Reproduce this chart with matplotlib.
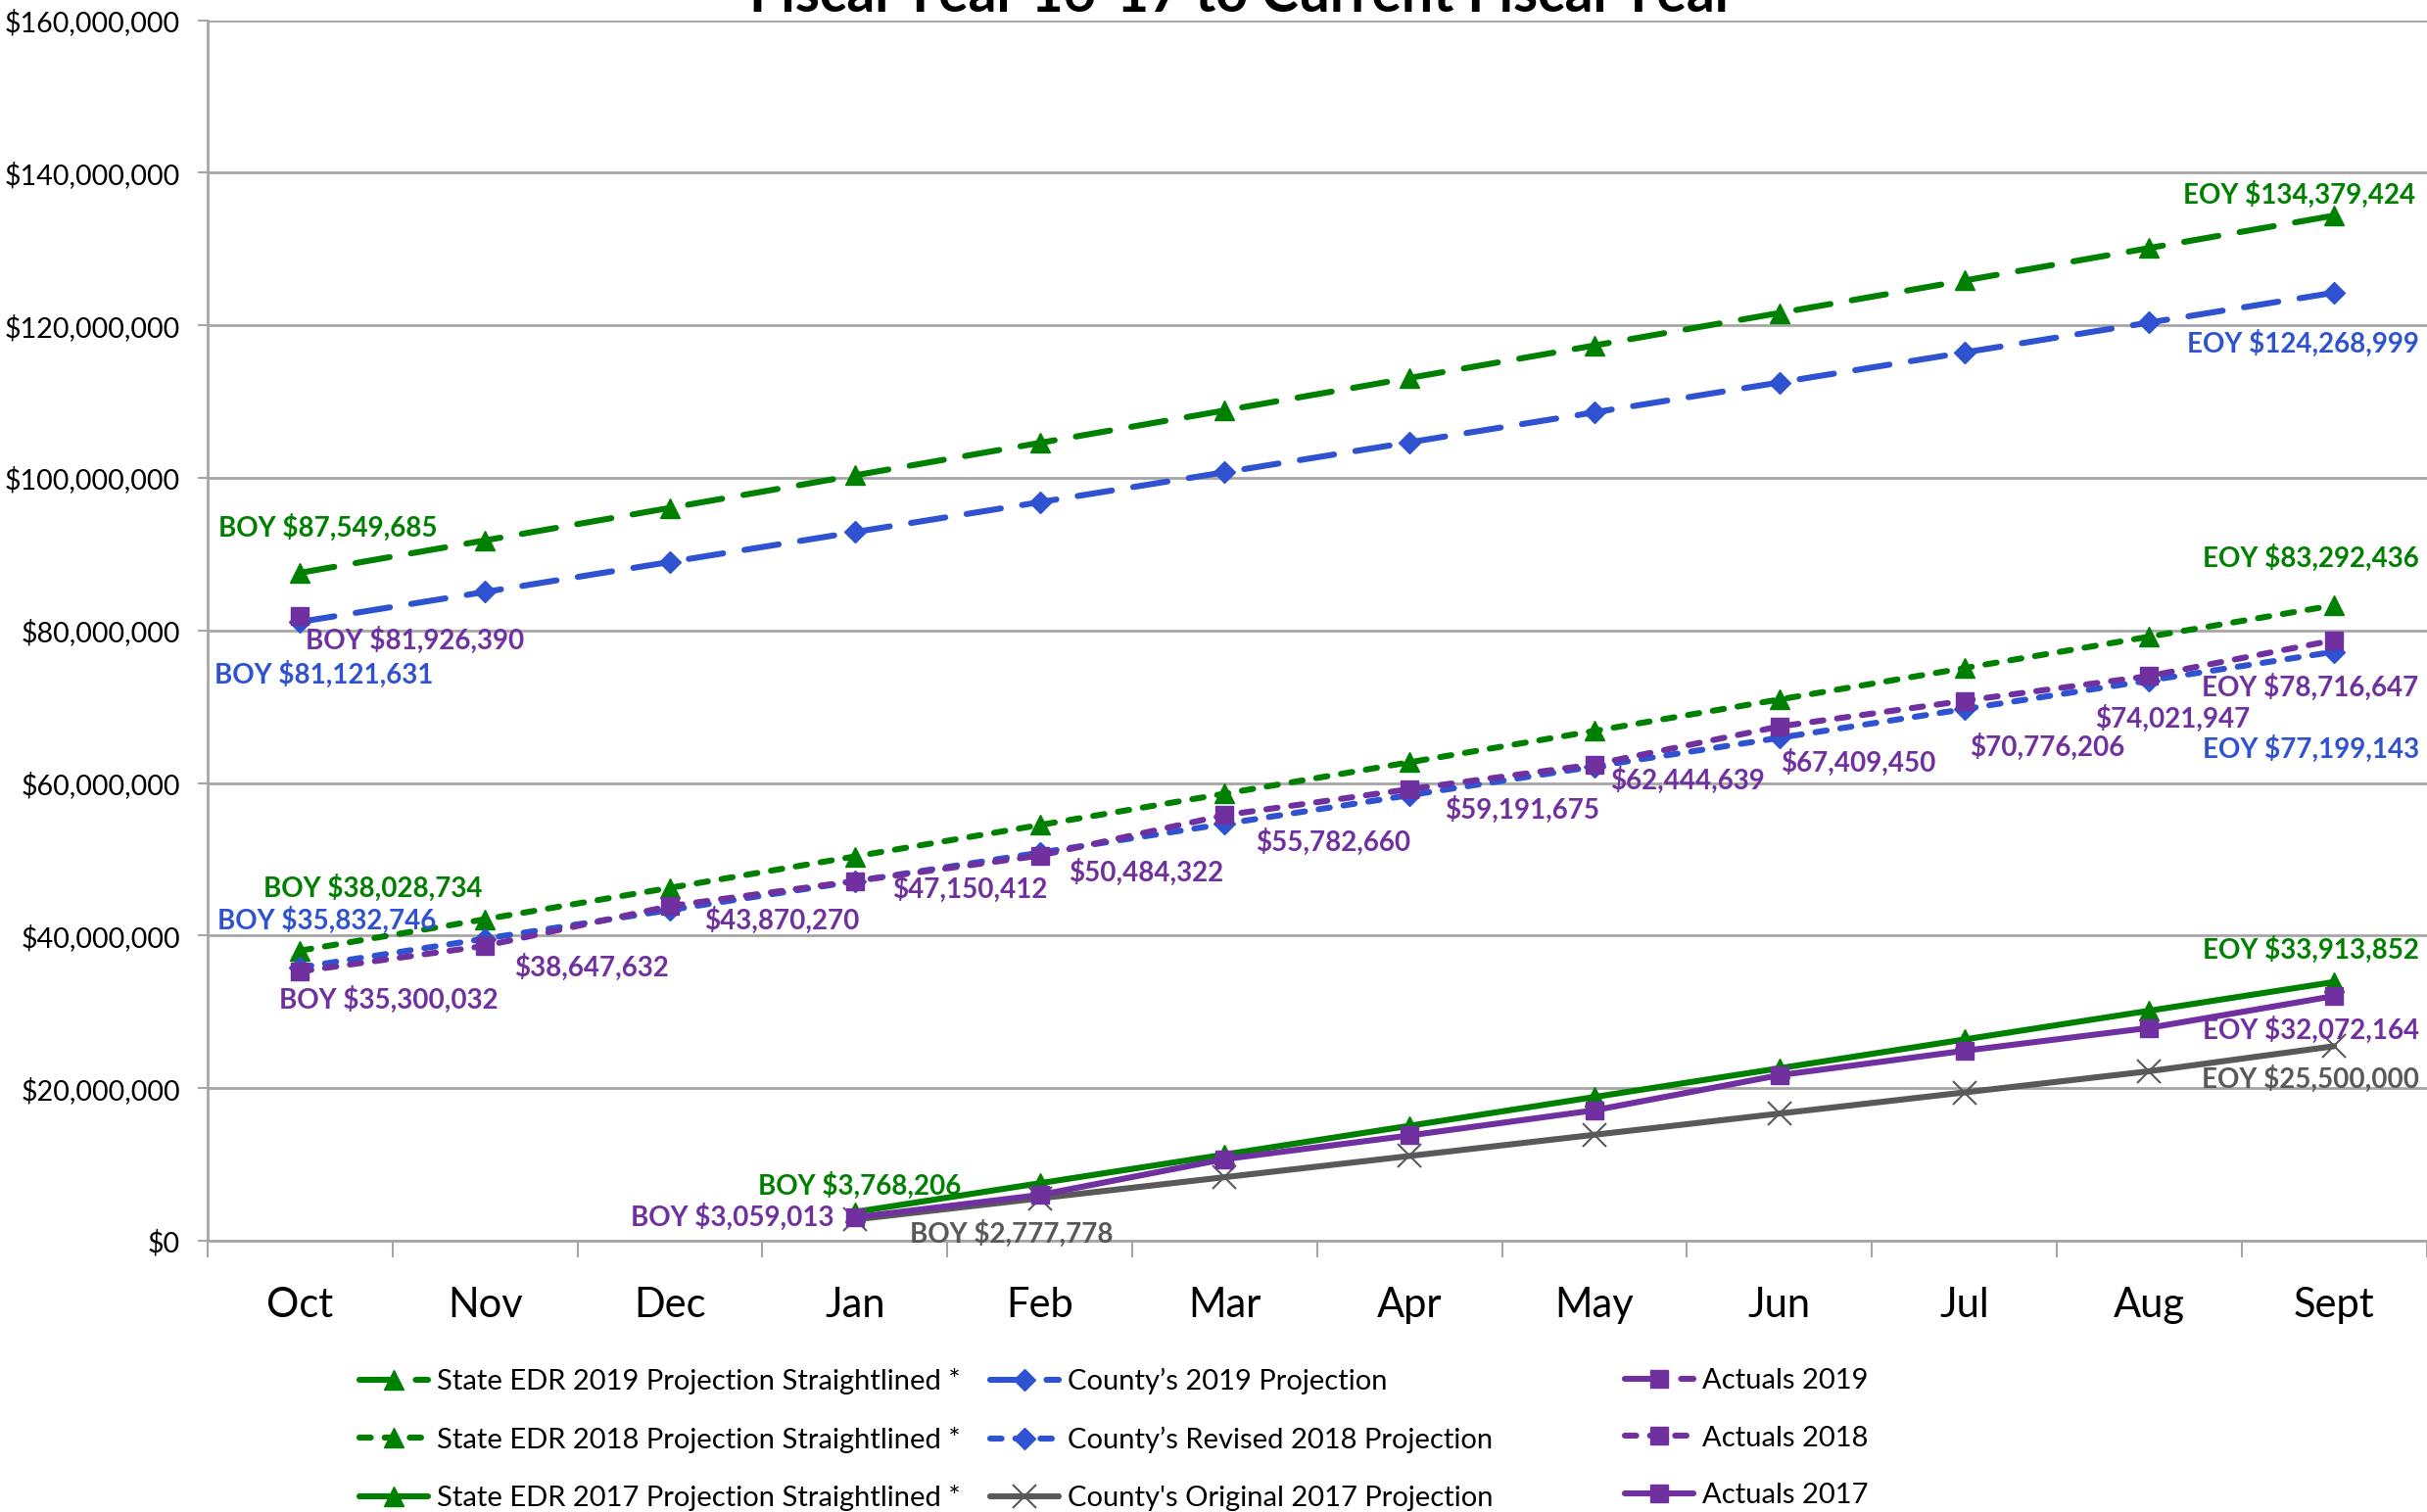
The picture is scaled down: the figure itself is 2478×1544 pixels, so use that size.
import matplotlib
matplotlib.use("Agg")
import matplotlib.pyplot as plt
from matplotlib.lines import Line2D
from matplotlib.ticker import FuncFormatter, FixedLocator

plt.rcParams['font.family'] = ['Lato', 'DejaVu Sans']

# ---------------- data ----------------
months = ["Oct", "Nov", "Dec", "Jan", "Feb", "Mar", "Apr", "May", "Jun", "Jul", "Aug", "Sept"]

edr_2019 = [87549685, 91800000, 96060000, 100320000, 104580000, 108830000,
            113090000, 117350000, 121610000, 125860000, 130120000, 134379424]
county_2019 = [81121631, 85040000, 88970000, 92890000, 96810000, 100730000,
               104660000, 108580000, 112500000, 116430000, 120350000, 124268999]
actuals_2019 = [81926390]

edr_2018 = [38028734, 42140000, 46260000, 50370000, 54490000, 58600000,
            62720000, 66830000, 70950000, 75060000, 79180000, 83292436]
county_rev_2018 = [35832746, 39590000, 43350000, 47110000, 50870000, 54640000,
                   58400000, 62160000, 65920000, 69680000, 73440000, 77199143]
actuals_2018 = [35300032, 38647632, 43870270, 47150412, 50484322, 55782660,
                59191675, 62444639, 67409450, 70776206, 74021947, 78716647]

months_2017 = ["Jan", "Feb", "Mar", "Apr", "May", "Jun", "Jul", "Aug", "Sept"]
edr_2017 = [3768206, 7540000, 11300000, 15070000, 18840000, 22610000,
            26380000, 30150000, 33913852]
county_orig_2017 = [2777778, 5560000, 8330000, 11110000, 13890000, 16670000,
                    19440000, 22220000, 25500000]
actuals_2017 = [3059013, 6000000, 10700000, 13800000, 17100000, 21700000,
                24900000, 27900000, 32072164]

title = "Fiscal Year 16-17 to Current Fiscal Year"

# ---------------- style ----------------
GREEN = "#008000"
BLUE = "#2F52D0"
PURPLE = "#7030A0"
GRAY = "#595959"
GRID = "#A6A6A6"
LONG = (0, (5.8, 3.6))
SHORT = (0, (1.9, 2.3))

fig = plt.figure(figsize=(24.78, 15.44), dpi=100)
ax = fig.add_axes([212 / 2478, 277 / 1544, (2477.5 - 212) / 2478, (1267 - 20.5) / 1544])

x_all = list(range(len(months)))
x_2017 = [months.index(m) for m in months_2017]

lw = 4.4
series = {}
def plot(name, xs, ys, color, ls, marker, ms, mew=1.0, z=3):
    line, = ax.plot(xs, ys, color=color, ls=ls, lw=lw, marker=marker, ms=ms,
                    markeredgewidth=mew, markeredgecolor=color, markerfacecolor=color,
                    dash_capstyle='round', solid_capstyle='round', zorder=z, label=name)
    series[name] = (xs, ys, line)
    return line

h_edr19 = plot("State EDR 2019 Projection Straightlined *", x_all, edr_2019, GREEN, LONG, '^', 15)
h_cty19 = plot("County\u2019s 2019 Projection", x_all, county_2019, BLUE, LONG, 'D', 11)
h_edr18 = plot("State EDR 2018 Projection Straightlined *", x_all, edr_2018, GREEN, SHORT, '^', 15)
h_cty18 = plot("County\u2019s Revised 2018 Projection", x_all, county_rev_2018, BLUE, SHORT, 'D', 11)
h_edr17 = plot("State EDR 2017 Projection Straightlined *", x_2017, edr_2017, GREEN, '-', '^', 15)
h_cty17 = plot("County's Original 2017 Projection", x_2017, county_orig_2017, GRAY, '-', 'x', 17, mew=1.5)
h_act19 = plot("Actuals 2019", x_all[:len(actuals_2019)], actuals_2019, PURPLE, LONG, 's', 13.5, z=4)
h_act18 = plot("Actuals 2018", x_all, actuals_2018, PURPLE, SHORT, 's', 13.5, z=4)
h_act17 = plot("Actuals 2017", x_2017, actuals_2017, PURPLE, '-', 's', 13.5, z=4)

# ---------------- axes ----------------
ax.set_xlim(-0.5, 11.5)
ax.set_ylim(0, 160e6)
ax.set_yticks([i * 20e6 for i in range(9)])
ax.yaxis.set_major_formatter(FuncFormatter(lambda v, p: f"${v:,.0f}"))
ax.grid(axis='y', color=GRID, lw=2.0, zorder=0)
ax.set_axisbelow(True)
for s in ['top', 'right']:
    ax.spines[s].set_visible(False)
for s in ['left', 'bottom']:
    ax.spines[s].set_color(GRID)
    ax.spines[s].set_linewidth(2.0)
ax.tick_params(axis='y', length=7, width=1.5, color=GRID, pad=13, labelsize=20.7)
ax.set_xticks(x_all)
ax.set_xticklabels(months)
ax.tick_params(axis='x', which='major', length=0, pad=34, labelsize=30)
ax.xaxis.set_minor_locator(FixedLocator([i - 0.5 for i in range(13)]))
ax.tick_params(axis='x', which='minor', length=12, width=1.5, color=GRID)

# ---------------- data labels ----------------
def money(v):
    return f"${v:,.0f}"

labels = [
    ("State EDR 2019 Projection Straightlined *", 0, "BOY ", 28, 46, GREEN),
    ("State EDR 2019 Projection Straightlined *", 11, "EOY ", -36, 21, GREEN),
    ("County\u2019s 2019 Projection", 11, "EOY ", -32, -52, BLUE),
    ("Actuals 2019", 0, "BOY ", 117, -25, PURPLE),
    ("County\u2019s 2019 Projection", 0, "BOY ", 24, -54, BLUE),
    ("State EDR 2018 Projection Straightlined *", 11, "EOY ", -24, 48, GREEN),
    ("Actuals 2018", 11, "EOY ", -24, -48, PURPLE),
    ("County\u2019s Revised 2018 Projection", 11, "EOY ", -24, -99, BLUE),
    ("Actuals 2018", 10, "", 24, -43, PURPLE),
    ("Actuals 2018", 9, "", 85, -47, PURPLE),
    ("Actuals 2018", 8, "", 81, -37, PURPLE),
    ("Actuals 2018", 7, "", 95, -16, PURPLE),
    ("Actuals 2018", 6, "", 115, -21, PURPLE),
    ("Actuals 2018", 5, "", 111, -27, PURPLE),
    ("Actuals 2018", 4, "", 109, -17, PURPLE),
    ("Actuals 2018", 3, "", 117, -8, PURPLE),
    ("Actuals 2018", 2, "", 114, -15, PURPLE),
    ("Actuals 2018", 1, "", 109, -22, PURPLE),
    ("Actuals 2018", 0, "BOY ", 90, -29, PURPLE),
    ("State EDR 2018 Projection Straightlined *", 0, "BOY ", 74, 64, GREEN),
    ("County\u2019s Revised 2018 Projection", 0, "BOY ", 27, 48, BLUE),
    ("State EDR 2017 Projection Straightlined *", 8, "EOY ", -24, 33, GREEN),
    ("Actuals 2017", 8, "EOY ", -24, -35, PURPLE),
    ("County's Original 2017 Projection", 8, "EOY ", -24, -33, GRAY),
    ("State EDR 2017 Projection Straightlined *", 0, "BOY ", 5, 27, GREEN),
    ("Actuals 2017", 0, "BOY ", -125, 0, PURPLE),
    ("County's Original 2017 Projection", 0, "BOY ", 160, -14, GRAY),
]
for name, i, prefix, dx, dy, col in labels:
    xs, ys, _ = series[name]
    ax.annotate(prefix + money(ys[i]), (xs[i], ys[i]), xytext=(dx, dy),
                textcoords='offset pixels', ha='center', va='center',
                fontsize=20, fontweight='bold', color=col, zorder=6,
                annotation_clip=False)

# ---------------- legend ----------------
cols = [[h_edr19, h_edr18, h_edr17], [h_cty19, h_cty18, h_cty17], [h_act19, h_act18, h_act17]]
col_x = [367, 1011, 1659]
for hs, cx in zip(cols, col_x):
    leg = fig.legend(handles=hs, labels=[h.get_label() for h in hs], loc='upper left',
                     bbox_to_anchor=(cx / 2478, 1 - 1397 / 1544), frameon=False,
                     fontsize=21, handlelength=2.4, handletextpad=0.3, labelspacing=1.12,
                     borderpad=0, borderaxespad=0, numpoints=1)

fig.text(0.512, 1 - 12 / 1544, title, ha='center', va='baseline', fontsize=41,
         fontweight='bold', color='black')

fig.savefig("out.png", dpi=100)
